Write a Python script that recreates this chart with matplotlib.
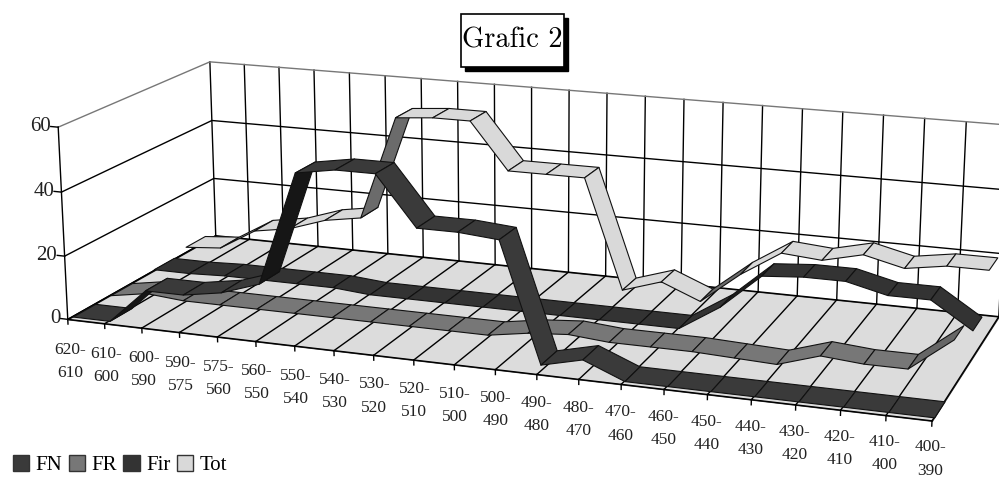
import matplotlib
matplotlib.use("Agg")
import matplotlib.pyplot as plt
from matplotlib.patches import Patch, Rectangle
from mpl_toolkits.mplot3d.art3d import Poly3DCollection

plt.rcParams['font.family'] = ['Liberation Serif', 'DejaVu Serif']

categories = ["620-\n610", "610-\n600", "600-\n590", "590-\n575", "575-\n560", "560-\n550",
              "550-\n540", "540-\n530", "530-\n520", "520-\n510", "510-\n500", "500-\n490",
              "490-\n480", "480-\n470", "470-\n460", "460-\n450", "450-\n440", "440-\n430",
              "430-\n420", "420-\n410", "410-\n400", "400-\n390"]
fn = [0, 0, 11, 11, 13, 17, 52, 54, 54, 39, 39, 38, 2, 5, 0, 0, 0, 0, 0, 0, 0, 0]
fr = [0, 2, 1, 1, 1, 1, 1, 1, 1, 1, 1, 3, 4, 3, 3, 3, 2.5, 2, 6, 5, 5, 15]
fir = [0.5, 0.5, 1, 1, 1, 1, 0, 0, 0, 0, 0, 0, 0, 0, 0, 8, 19, 20, 20, 17, 17, 9]
tot = [2, 3, 10, 12, 16, 18, 52, 53, 53, 38, 38, 38, 3, 7, 2, 12, 20, 19, 22, 19, 21, 21]
yticks = [0, 20, 40, 60]

series = [("Tot", tot, 3.4, "#d9d9d9", "#6b6b6b"),
          ("Fir", fir, 2.5, "#333333", "#1c1c1c"),
          ("FR", fr, 1.35, "#777777", "#666666"),
          ("FN", fn, 0.4, "#3a3a3a", "#161616")]

fig = plt.figure(figsize=(9.99, 4.8), dpi=100)
ax = fig.add_axes([-0.02, -0.62, 1.08, 2.25], projection='3d')
ax.computed_zorder = False
ax.set_proj_type('persp', focal_length=0.45)
ax.view_init(elev=15.5, azim=-70)
ax.set_box_aspect((920, 345, 208), zoom=0.865)
ax.set_axis_off()

n = len(categories) - 1
ax.set_xlim(0, n)
ax.set_ylim(0, 4)
ax.set_zlim(0, 60)

# floor and walls
floor = Poly3DCollection([[(0, 0, 0), (n, 0, 0), (n, 4, 0), (0, 4, 0)]],
                         facecolor="#dcdcdc", edgecolor="#333333", linewidth=0.8, zorder=1)
ax.add_collection3d(floor)
for i in range(n + 1):
    ax.plot([i, i], [0, 4], [0, 0], color="black", lw=1, zorder=2)
    ax.plot([i, i], [4, 4], [0, 60], color="black", lw=1, zorder=2)
    ax.plot([i, i], [0, 0], [-1.5, 0], color="black", lw=1, zorder=2)
    # perspective stretches the drop towards the right, so shorten it there
    ax.text(i, 0, -13.5 + 0.12 * i, categories[i], ha="center", va="center", fontsize=12.5,
            color="#222222", linespacing=1.6, zorder=9)
for v in yticks:
    c = "#777777" if v == 60 else "black"
    ax.plot([0, 0, n], [0, 4, 4], [v, v, v], color=c, lw=1, zorder=2)
    ax.plot([-0.2, 0], [0, 0], [v, v], color="black", lw=1, zorder=2)
    ax.text(-0.2, 0, v, str(v), ha="right", va="center", fontsize=15, color="#222222", zorder=9)
ax.plot([0, 0], [0, 0], [0, 60], color="black", lw=1, zorder=3)
ax.plot([0, n], [0, 0], [0, 0], color="black", lw=1, zorder=3)

# one ribbon per series, back to front
for k, (name, values, depth, base, rising) in enumerate(series):
    for i in range(n):
        verts = [(i, depth - 0.28, values[i]), (i + 1, depth - 0.28, values[i + 1]),
                 (i + 1, depth + 0.28, values[i + 1]), (i, depth + 0.28, values[i])]
        color = rising if values[i + 1] - values[i] > 8 else base
        ax.add_collection3d(Poly3DCollection([verts], facecolor=color, edgecolor="#111111",
                                             linewidth=0.8, zorder=4 + k))

# title box with its drop shadow
fig.add_artist(Rectangle((0.465, 0.852), 0.104, 0.11, transform=fig.transFigure,
                         facecolor="black", edgecolor="black", zorder=10))
fig.add_artist(Rectangle((0.461, 0.86), 0.104, 0.11, transform=fig.transFigure,
                         facecolor="white", edgecolor="black", lw=1.2, zorder=11))
fig.text(0.513, 0.915, "Grafic 2", family="cmr10", fontsize=20.5, ha="center", va="center", zorder=12)

legend_colors = {"FN": "#3a3a3a", "FR": "#777777", "Fir": "#333333", "Tot": "#d9d9d9"}
handles = [Patch(facecolor=c, edgecolor="#333333", label=name) for name, c in legend_colors.items()]
fig.legend(handles=handles, loc="lower left", bbox_to_anchor=(-0.004, -0.025), ncol=4, frameon=False,
           fontsize=15, handlelength=0.8, handleheight=0.8, handletextpad=0.3, columnspacing=0.3,
           borderpad=0.3)

fig.savefig("out.png", dpi=100)
